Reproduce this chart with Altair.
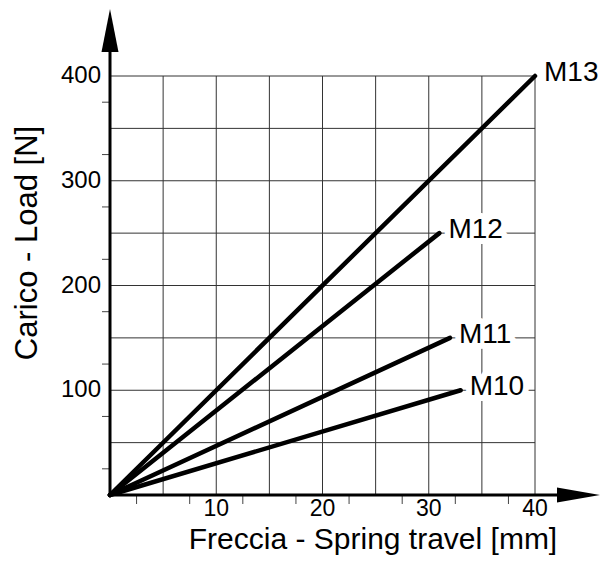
import altair as alt
import pandas as pd

# ---- data ----
series = ["M10", "M11", "M12", "M13"]
end_travel = [33, 32, 31, 40]        # mm
end_load = [100, 150, 250, 400]      # N

x_grid = [5, 10, 15, 20, 25, 30, 35, 40]
y_grid = [50, 100, 150, 200, 250, 300, 350, 400]
x_minor = [2.5, 7.5, 12.5, 17.5, 22.5, 27.5, 32.5, 37.5]
y_minor = [25, 75, 125, 175, 225, 275, 325, 375]
x_labels = [10, 20, 30, 40]
y_labels = [100, 200, 300, 400]

x_title = "Freccia - Spring travel [mm]"
y_title = "Carico - Load [N]"

FONT = "Liberation Sans"
W, H = 425, 419

xs = alt.Scale(domain=[0, 40], nice=False, zero=False)
ys = alt.Scale(domain=[0, 400], nice=False, zero=False)

lines_rows = []
for s, ex, ey in zip(series, end_travel, end_load):
    lines_rows.append({"series": s, "travel": 0, "load": 0, "o": 0})
    lines_rows.append({"series": s, "travel": ex, "load": ey, "o": 1})
lines_df = pd.DataFrame(lines_rows)
ends_df = pd.DataFrame({"series": series, "travel": end_travel, "load": end_load})

one = pd.DataFrame({"a": [0]})

vgrid = alt.Chart(pd.DataFrame({"v": x_grid})).mark_rule(color="#333", strokeWidth=1).encode(
    x=alt.X("v:Q", scale=xs, axis=None), y=alt.value(0), y2=alt.value(H))
hgrid = alt.Chart(pd.DataFrame({"v": y_grid})).mark_rule(color="#333", strokeWidth=1).encode(
    y=alt.Y("v:Q", scale=ys, axis=None), x=alt.value(0), x2=alt.value(W))

xticks = alt.Chart(pd.DataFrame({"v": x_minor})).mark_rule(color="#444", strokeWidth=1).encode(
    x=alt.X("v:Q", scale=xs, axis=None), y=alt.value(H), y2=alt.value(H + 9))
yticks = alt.Chart(pd.DataFrame({"v": y_minor})).mark_rule(color="#444", strokeWidth=1).encode(
    y=alt.Y("v:Q", scale=ys, axis=None), x=alt.value(-8), x2=alt.value(0))

xlab = alt.Chart(pd.DataFrame({"v": x_labels})).mark_text(
    font=FONT, fontSize=23, align="center", baseline="alphabetic", color="black").encode(
    x=alt.X("v:Q", scale=xs, axis=None), y=alt.value(H + 21), text="v:Q")
ylab = alt.Chart(pd.DataFrame({"v": y_labels})).mark_text(
    font=FONT, fontSize=24, align="right", baseline="middle", color="black").encode(
    y=alt.Y("v:Q", scale=ys, axis=None), x=alt.value(-9), text="v:Q")

# axis lines and arrows
xaxis = alt.Chart(one).mark_rule(color="black", strokeWidth=3).encode(
    x=alt.value(-1), x2=alt.value(449), y=alt.value(H))
yaxis = alt.Chart(one).mark_rule(color="black", strokeWidth=3).encode(
    x=alt.value(0), y=alt.value(H + 1), y2=alt.value(-26))
xarrow = alt.Chart(one).mark_point(
    shape="M-1,-0.349L1,0L-1,0.349Z", filled=True, size=1849, color="black", opacity=1).encode(
    x=alt.value(468.5), y=alt.value(H))
yarrow = alt.Chart(one).mark_point(
    shape="M-0.395,1L0,-1L0.395,1Z", filled=True, size=1849, color="black", opacity=1).encode(
    x=alt.value(0), y=alt.value(-45.5))

# titles
xt = alt.Chart(pd.DataFrame({"t": [x_title]})).mark_text(
    font=FONT, fontSize=30, align="center", baseline="alphabetic", color="black").encode(
    x=alt.value(263), y=alt.value(473), text="t:N")
yt = alt.Chart(pd.DataFrame({"t": [y_title]})).mark_text(
    font=FONT, fontSize=31, align="center", baseline="alphabetic", angle=270, color="black").encode(
    x=alt.value(-73), y=alt.value(167), text="t:N")

lines = alt.Chart(lines_df).mark_line(color="black", strokeWidth=4.5, strokeCap="round").encode(
    x=alt.X("travel:Q", scale=xs, axis=None),
    y=alt.Y("load:Q", scale=ys, axis=None),
    detail="series:N", order="o:Q")

halo = alt.Chart(ends_df).mark_text(
    font=FONT, fontSize=28, align="left", baseline="alphabetic", dx=9, dy=5,
    color="white", stroke="white", strokeWidth=12, strokeJoin="round").encode(
    x=alt.X("travel:Q", scale=xs, axis=None), y=alt.Y("load:Q", scale=ys, axis=None), text="series:N")
labels = alt.Chart(ends_df).mark_text(
    font=FONT, fontSize=28, align="left", baseline="alphabetic", dx=9, dy=5, color="black").encode(
    x=alt.X("travel:Q", scale=xs, axis=None), y=alt.Y("load:Q", scale=ys, axis=None), text="series:N")

chart = alt.layer(
    vgrid, hgrid, xticks, yticks, lines, halo, labels, xaxis, yaxis, xarrow, yarrow,
    xlab, ylab, xt, yt
).properties(
    width=W, height=H,
    autosize=alt.AutoSizeParams(type="none"),
    padding={"left": 102, "top": 68, "right": 66, "bottom": 61},
).configure_view(stroke=None)

chart.save("out.html", embed_options={"renderer": "svg", "actions": False})
